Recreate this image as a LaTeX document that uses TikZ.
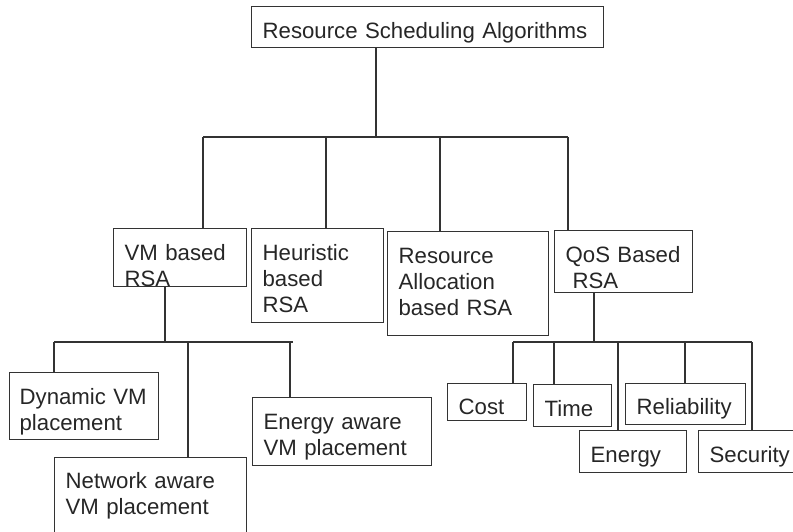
\documentclass[tikz,border=0pt]{standalone}
\usepackage{fontspec}
\setmainfont{Liberation Sans}
\usepackage{tikz}
\usetikzlibrary{positioning}
\tikzset{
    box/.style={
        draw=black!80, line width=1.3pt,
        anchor=north west, align=left,
        inner xsep=11pt, inner ysep=0pt,
        text=black!85,
        font=\fontsize{22.2}{26}\selectfont
    },
    link/.style={
        draw=black!80, line width=1.3pt
    },
}

\begin{document}
\begin{tikzpicture}[x=1pt, y=-1pt]
    \useasboundingbox (0,0) rectangle (793,531);

    % root and first level
    \node[box, text width=330pt, text height=32pt, text depth=9pt] (rsa) at (251,6) {Resource Scheduling Algorithms};
    \node[box, text width=111pt, text height=32pt, text depth=26pt] (vm) at (113,228) {VM based\\RSA};
    \node[box, text width=110pt, text height=32pt, text depth=62pt] (heur) at (251,228) {Heuristic\\based\\RSA};
    \node[box, text width=139pt, text height=32pt, text depth=72pt] (alloc) at (387,231) {Resource\\Allocation\\based RSA};
    \node[box, text width=116pt, text height=32pt, text depth=30pt] (qos) at (554,230) {QoS Based\\\hspace*{7pt}RSA};

    % VM based children
    \node[box, inner xsep=10pt, text width=129pt, text height=32pt, text depth=35pt] (dyn) at (9,372) {\mbox{Dynamic VM}\\placement};
    \node[box, text width=170pt, text height=31pt, text depth=59pt] (net) at (54,457) {Network aware\\VM placement};
    \node[box, text width=157pt, text height=32pt, text depth=36pt] (ener) at (252,397) {Energy aware\\VM placement};

    % QoS children
    \node[box, text width=57pt, text height=31pt, text depth=6pt] (cost) at (447,383) {Cost};
    \node[box, text width=56pt, text height=32pt, text depth=10pt] (time) at (533,384) {Time};
    \node[box, text width=98pt, text height=31pt, text depth=10pt] (rel) at (625,383) {Reliability};
    \node[box, text width=85pt, text height=32pt, text depth=10pt] (energy) at (579,430) {Energy};
    \node[box, text width=88pt, text height=32pt, text depth=10pt] (sec) at (698,430) {Security};

    % buses
    \coordinate (top) at (376,137);
    \coordinate (topl) at (203,137);
    \coordinate (topr) at (568,137);
    \draw[link] (rsa.south -| top) -- (top);
    \draw[link] (topl) -- (topr);

    \coordinate (vmbus) at (165,342);
    \coordinate (vml) at (54,342);
    \coordinate (vmr) at (293,342);
    \draw[link] (vm.south -| vmbus) -- (vmbus);
    \draw[link] (vml) -- (vmr);

    \coordinate (qbus) at (594,342);
    \coordinate (ql) at (513,342);
    \coordinate (qr) at (752,342);
    \draw[link] (qos.south -| qbus) -- (qbus);
    \draw[link] (ql) -- (qr);

    \foreach \x/\n in {203/vm, 326/heur, 440/alloc, 568/qos}
        {\coordinate (d\n) at (\x,137);
         \draw[link] (d\n) -- (d\n |- \n.north);}
    \foreach \x/\n in {54/dyn, 188/net, 290/ener}
        {\coordinate (d\n) at (\x,342);
         \draw[link] (d\n) -- (d\n |- \n.north);}
    \foreach \x/\n in {513/cost, 554/time, 618/energy, 685/rel, 752/sec}
        {\coordinate (d\n) at (\x,342);
         \draw[link] (d\n) -- (d\n |- \n.north);}
\end{tikzpicture}
\end{document}
